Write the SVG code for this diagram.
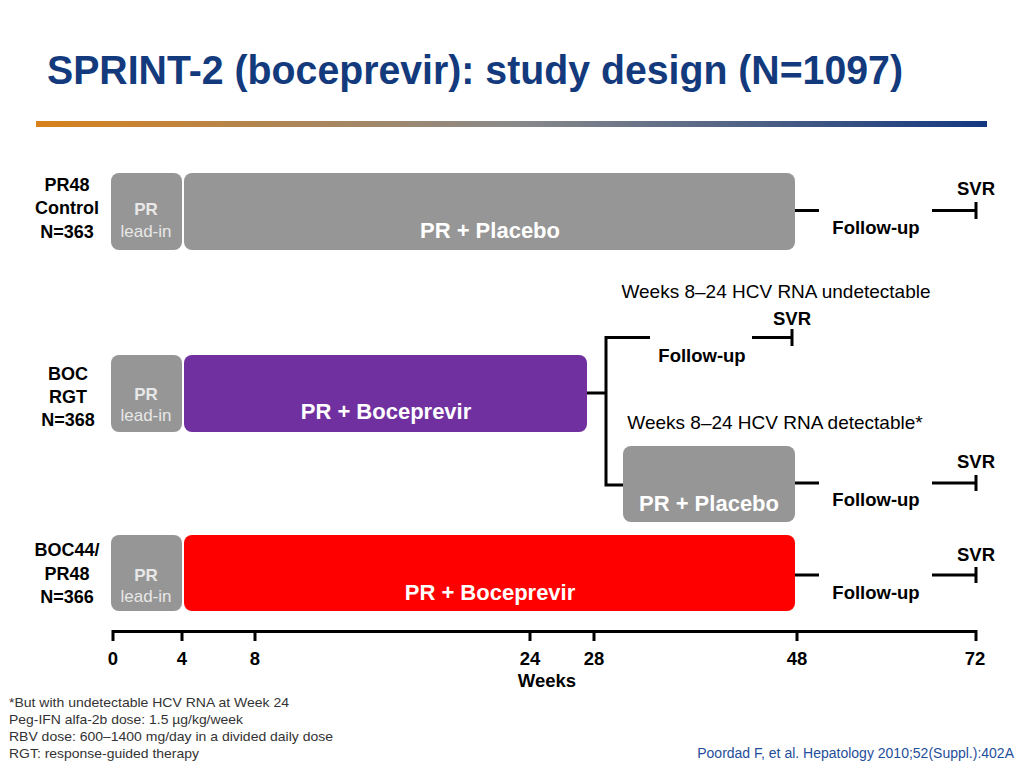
<svg xmlns="http://www.w3.org/2000/svg" width="1024" height="768" viewBox="0 0 1024 768">
<defs>
<linearGradient id="bar" x1="0" y1="0" x2="1" y2="0">
<stop offset="0" stop-color="#D8811A"/>
<stop offset="0.5" stop-color="#8A8A8A"/>
<stop offset="1" stop-color="#143880"/>
</linearGradient>
<style>
.t{font-family:"Liberation Sans",Arial,sans-serif}
.lab{font-family:"Liberation Sans",Arial,sans-serif;font-weight:bold;font-size:18px;fill:#000;text-anchor:middle}
.lead{font-family:"Liberation Sans",Arial,sans-serif;font-size:17px;fill:#E8E8E8;text-anchor:middle}
.b{font-weight:bold}
.main{font-family:"Liberation Sans",Arial,sans-serif;font-weight:bold;font-size:22px;fill:#fff;text-anchor:middle}
.fu{font-family:"Liberation Sans",Arial,sans-serif;font-weight:bold;font-size:18.5px;fill:#000;text-anchor:middle}
.note{font-family:"Liberation Sans",Arial,sans-serif;font-size:19px;fill:#000;text-anchor:middle}
.foot{font-family:"Liberation Sans",Arial,sans-serif;font-size:13.5px;fill:#333}
.ln{stroke:#000;stroke-width:3;fill:none}
.gray{fill:#969696}
</style>
</defs>
<rect width="1024" height="768" fill="#fff"/>
<text class="t" x="47" y="84" font-size="40" font-weight="bold" fill="#133A7C" textLength="856" lengthAdjust="spacingAndGlyphs">SPRINT-2 (boceprevir): study design (N=1097)</text>
<rect x="36" y="121" width="951" height="6" fill="url(#bar)"/>

<g id="row1-label"><text class="lab" x="67" y="191">PR48</text><text class="lab" x="67" y="214">Control</text><text class="lab" x="67" y="238">N=363</text></g>
<g id="row1-leadin"><rect class="gray" x="111" y="173" width="71" height="77" rx="8"/><text class="lead b" x="146" y="215">PR</text><text class="lead" x="146" y="237">lead-in</text></g>
<g id="row1-main"><rect class="gray" x="184" y="173" width="611" height="77" rx="8"/><text class="main" x="490" y="238">PR + Placebo</text></g>

<g id="row2-label"><text class="lab" x="68" y="380">BOC</text><text class="lab" x="68" y="403">RGT</text><text class="lab" x="68" y="426">N=368</text></g>
<g id="row2-leadin"><rect class="gray" x="111" y="355" width="71" height="77" rx="8"/><text class="lead b" x="146" y="400">PR</text><text class="lead" x="146" y="421">lead-in</text></g>
<g id="row2-main"><rect x="184" y="355" width="403" height="77" rx="8" fill="#7030A0"/><text class="main" x="386" y="419">PR + Boceprevir</text></g>
<g id="row2-placebo"><rect class="gray" x="623" y="446" width="172" height="76" rx="8"/><text class="main" x="709" y="511">PR + Placebo</text></g>

<g id="row3-label"><text class="lab" x="67" y="556">BOC44/</text><text class="lab" x="67" y="580">PR48</text><text class="lab" x="67" y="603">N=366</text></g>
<g id="row3-leadin"><rect class="gray" x="111" y="535" width="71" height="76" rx="8"/><text class="lead b" x="146" y="581">PR</text><text class="lead" x="146" y="602">lead-in</text></g>
<g id="row3-main"><rect x="184" y="535" width="611" height="76" rx="8" fill="#FF0000"/><text class="main" x="490" y="600">PR + Boceprevir</text></g>

<g id="connectors">
<path class="ln" d="M795 210.5H819M932 210.5H976M976 202V219"/>
<path class="ln" d="M587 393H606M650 337.5H606V485H623"/>
<path class="ln" d="M752 337.5H792M792 329V346"/>
<path class="ln" d="M795 483H819M932 483H976M976 475V491"/>
<path class="ln" d="M795 575H819M932 575H976M976 567V583"/>
<path class="ln" d="M113 641V631.5H976V641M182 631V641M255 631V641M530 631V641M594 631V641M797 631V641"/>
</g>

<g id="followup-texts">
<text class="fu" x="976" y="195">SVR</text>
<text class="fu" x="876" y="234">Follow-up</text>
<text class="note" x="776" y="298">Weeks 8–24 HCV RNA undetectable</text>
<text class="fu" x="792" y="325">SVR</text>
<text class="fu" x="702" y="362">Follow-up</text>
<text class="note" x="775" y="429">Weeks 8–24 HCV RNA detectable*</text>
<text class="fu" x="976" y="468">SVR</text>
<text class="fu" x="876" y="506">Follow-up</text>
<text class="fu" x="976" y="561">SVR</text>
<text class="fu" x="876" y="599">Follow-up</text>
</g>

<g id="axis-labels">
<text class="fu" x="113" y="665">0</text>
<text class="fu" x="182" y="665">4</text>
<text class="fu" x="255" y="665">8</text>
<text class="fu" x="530" y="665">24</text>
<text class="fu" x="594" y="665">28</text>
<text class="fu" x="797" y="665">48</text>
<text class="fu" x="975" y="665">72</text>
<text class="fu" x="547" y="687">Weeks</text>
</g>

<g id="footnotes">
<text class="foot" x="9" y="707" textLength="280" lengthAdjust="spacingAndGlyphs">*But with undetectable HCV RNA at Week 24</text>
<text class="foot" x="9" y="724" textLength="234" lengthAdjust="spacingAndGlyphs">Peg-IFN alfa-2b dose: 1.5 µg/kg/week</text>
<text class="foot" x="9" y="741" textLength="324" lengthAdjust="spacingAndGlyphs">RBV dose: 600–1400 mg/day in a divided daily dose</text>
<text class="foot" x="9" y="758" textLength="190" lengthAdjust="spacingAndGlyphs">RGT: response-guided therapy</text>
<text class="t" x="1014" y="758" font-size="14" fill="#1F4E9A" text-anchor="end">Poordad F, et al. Hepatology 2010;52(Suppl.):402A</text>
</g>
</svg>
